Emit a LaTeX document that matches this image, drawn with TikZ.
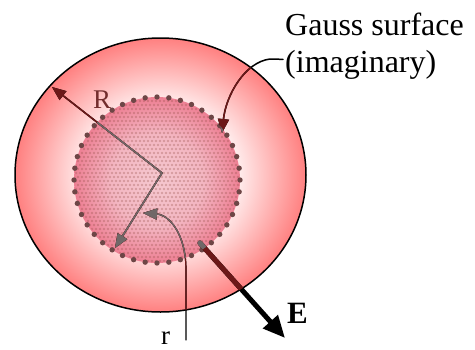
\documentclass[tikz,border=0pt]{standalone}
\usepackage{fontspec}
\setmainfont{Liberation Serif}
\usetikzlibrary{arrows.meta,calc}

\definecolor{sphedge}{RGB}{255,128,128}
\definecolor{sphlight}{RGB}{255,240,240}
\definecolor{discmid}{RGB}{246,200,208}
\definecolor{discring}{RGB}{244,182,194}
\definecolor{discedge}{RGB}{238,128,148}
\definecolor{gridbrown}{RGB}{140,70,60}
\definecolor{dotbrown}{RGB}{110,70,70}
\definecolor{sphdark}{RGB}{108,24,24}
\definecolor{discgray}{RGB}{112,104,104}
\definecolor{labelred}{RGB}{115,45,45}

\pgfdeclareradialshading{chargeball}{\pgfpoint{0bp}{0bp}}{%
  color(0bp)=(white); color(13bp)=(sphlight); color(25bp)=(sphedge); color(50bp)=(sphedge)}
\pgfdeclareradialshading{gaussball}{\pgfpoint{0bp}{0bp}}{%
  color(0bp)=(discmid); color(14bp)=(discring); color(25bp)=(discedge); color(50bp)=(discedge)}

% all pointers of the figure in one colour
\newcommand\drawpointers[1]{%
	\draw[thinarrow, #1] (O) -- (Rtip);
	\draw[thinarrow, #1] (O) -- (rtip);
	\draw[thinarrow, #1, line width=1.2pt] (rfoot) -- (186,270) .. controls (186,235) and (170,215) .. (rpoint);
	\draw[thinarrow, #1] ([xshift=-2pt,yshift=5pt]imag.west) -- (270,59) .. controls (245,62) and (226,95) .. (Gtip);
	\draw[fieldarrow, #1] (Ebase) -- (Etip);
}

\begin{document}
\begin{tikzpicture}[x=1pt, y=-1pt, line cap=round, line join=round,
    thinarrow/.style={-{Triangle[length=14pt,width=11pt]}, line width=1.5pt},
    fieldarrow/.style={-{Triangle[length=22pt,width=19pt]}, line width=5pt},
    lbl/.style={inner sep=0pt, anchor=base west, font=\fontsize{32}{36}\selectfont}]

	% Frame of the picture
	\useasboundingbox (0,0) rectangle (475,349);

	% Points
	\coordinate (S) at (160.5,175);
	\coordinate (O) at (162,173);
	\coordinate (G) at (157,180);
	\coordinate (Rtip) at (52,87);
	\coordinate (rtip) at (115,248);
	\coordinate (Gtip) at (222,133);
	\coordinate (Ebase) at (200,243);
	\coordinate (Etip) at (285,338);
	\coordinate (rfoot) at (186,340);
	\coordinate (rpoint) at (143,213);

	% Charged sphere
	\shade[shading=chargeball] (S) ellipse [x radius=145.5, y radius=137];
	\draw[line width=1.5pt] (S) ellipse [x radius=145.5, y radius=137];

	% Gauss surface: dotted pink disc
	\shade[shading=gaussball] (G) circle [radius=83];
	\begin{scope}
		\clip (G) circle [radius=82];
		\foreach \i in {0,...,42}
		\foreach \j in {0,...,42}
		\fill[gridbrown, fill opacity=.3] ({74+4*\i+2*mod(\j,2)},{97+4*\j}) circle [radius=1.3];
	\end{scope}
	\foreach \k in {0,...,43}
	\fill[dotbrown] ($(G)+({360/44*\k}:83)$) circle [radius=2.7];

	% Labels
	\node[lbl, font=\fontsize{27}{30}\selectfont, text=labelred] (Rlab) at (93,108) {R};
	\node[lbl] (gauss) at (285,35) {Gauss surface};
	\node[lbl] (imag) at (285,72) {(imaginary)};
	\node[lbl, font=\fontsize{31}{36}\selectfont\bfseries] (Elab) at (287,323) {E};
	\node[lbl, font=\fontsize{27}{30}\selectfont] (rlab) at (161,344) {r};

	% Pointers: black, darker red over the sphere, grey over the disc
	\drawpointers{black}
	\begin{scope}
		\clip (S) ellipse [x radius=145.5, y radius=137];
		\drawpointers{sphdark}
	\end{scope}
	\begin{scope}
		\clip (G) circle [radius=83];
		\drawpointers{discgray}
	\end{scope}

\end{tikzpicture}
\end{document}
